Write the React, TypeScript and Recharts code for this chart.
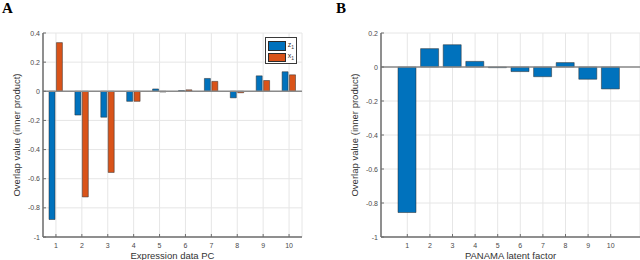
import { BarChart, Bar, XAxis, YAxis, CartesianGrid, ReferenceLine } from 'recharts';

const categories = ['1', '2', '3', '4', '5', '6', '7', '8', '9', '10'];
const zValues = [-0.88, -0.163, -0.178, -0.069, 0.016, 0.005, 0.088, -0.045, 0.106, 0.134];
const xValues = [0.334, -0.725, -0.557, -0.069, -0.005, 0.01, 0.068, -0.01, 0.074, 0.113];
const panamaValues = [-0.856, 0.108, 0.131, 0.033, -0.004, -0.027, -0.057, 0.026, -0.072, -0.129];
const legendLabels = ['z', 'x'];
const ticksA = [-1, -0.8, -0.6, -0.4, -0.2, 0, 0.2, 0.4];
const ticksB = [-1, -0.8, -0.6, -0.4, -0.2, 0, 0.2];

const FONT = '"Liberation Sans", Arial, sans-serif';
const BLUE = '#0072BD';
const ORANGE = '#D95319';
const EDGE = '#2b2b2b';
const AXIS = '#6e6e6e';
const TICK_TEXT = '#4a4a4a';
const GRID = '#e6e6e6';

const dataA = categories.map((c, i) => ({ pc: c, z: zValues[i], x: xValues[i] }));
const dataB = categories.map((c, i) => ({ f: c, v: panamaValues[i] }));

const fmt = (v: number) => String(Math.round(v * 10) / 10);

const YTick = (props: any) => {
  const { x, y, payload } = props;
  return (
    <g>
      <line x1={x + 3} x2={x + 6} y1={y} y2={y} stroke={AXIS} strokeWidth={1} />
      <text x={x} y={y} dy={2.5} textAnchor="end" fontSize={7} fill={TICK_TEXT} fontFamily={FONT}>
        {fmt(payload.value)}
      </text>
    </g>
  );
};

const XTick = (props: any) => {
  const { x, y, payload } = props;
  return (
    <g>
      <line x1={x} x2={x} y1={y - 5} y2={y - 8} stroke={AXIS} strokeWidth={1} />
      <text x={x} y={y} dy={6} textAnchor="middle" fontSize={7} fill={TICK_TEXT} fontFamily={FONT}>
        {payload.value}
      </text>
    </g>
  );
};

const LegendBox = () => (
  <div
    style={{
      position: 'absolute',
      left: 265,
      top: 37,
      width: 32,
      height: 27,
      border: '1px solid #3a3a3a',
      background: '#fff',
      padding: '2px 2px 0 2px',
      fontFamily: FONT,
      fontSize: 7,
      color: '#333',
      boxSizing: 'border-box',
    }}
  >
    {[BLUE, ORANGE].map((c, i) => (
      <div key={legendLabels[i]} style={{ display: 'flex', alignItems: 'center', height: 11.5 }}>
        <div style={{ width: 18, height: 9.5, background: c, border: `1px solid ${EDGE}`, boxSizing: 'border-box' }} />
        <span style={{ marginLeft: 2, lineHeight: '9px' }}>
          {legendLabels[i]}
          <sub style={{ fontSize: 5 }}>1</sub>
        </span>
      </div>
    ))}
  </div>
);

const yLabel = (cx: number) => (
  <text
    x={cx}
    y={135}
    transform={`rotate(-90 ${cx} 135)`}
    textAnchor="middle"
    fontSize={9.5}
    fill="#333"
    fontFamily={FONT}
  >
    Overlap value (inner product)
  </text>
);

const titleStyle = {
  position: 'absolute' as const,
  top: 1,
  fontFamily: '"Liberation Serif", serif',
  fontWeight: 'bold' as const,
  fontSize: 15,
  lineHeight: '15px',
};

export default function App() {
  return (
    <div style={{ position: 'fixed', left: 0, top: 0, width: 640, height: 260, background: '#fff' }}>
      <div style={{ ...titleStyle, left: 2 }}>A</div>
      <div style={{ ...titleStyle, left: 336 }}>B</div>

      <div style={{ position: 'absolute', left: 0, top: 0 }}>
        <BarChart
          width={320}
          height={260}
          data={dataA}
          margin={{ top: 33, right: 18, bottom: 0, left: 0 }}
          barSize={6}
          barGap={1.4}
        >
          <CartesianGrid stroke={GRID} strokeWidth={1} />
          <XAxis
            dataKey="pc"
            height={23}
            stroke={AXIS}
            strokeWidth={1.5}
            tickLine={false}
            tickSize={0}
            tickMargin={5}
            tick={<XTick />}
            interval={0}
            label={{ value: 'Expression data PC', position: 'insideBottom', offset: 1, fontSize: 9.5, fill: '#333', fontFamily: FONT }}
          />
          <YAxis
            width={43}
            domain={[-1, 0.4]}
            ticks={ticksA}
            stroke={AXIS}
            strokeWidth={1.5}
            tickLine={false}
            tickSize={0}
            tickMargin={3}
            tick={<YTick />}
            interval={0}
          />
          <ReferenceLine y={0} stroke="#8a8a8a" strokeWidth={1.5} />
          <Bar dataKey="z" name="z1" fill={BLUE} stroke={EDGE} strokeWidth={0.5} isAnimationActive={false} />
          <Bar dataKey="x" name="x1" fill={ORANGE} stroke={EDGE} strokeWidth={0.5} isAnimationActive={false} />
          {yLabel(20)}
        </BarChart>
        <LegendBox />
      </div>

      <div style={{ position: 'absolute', left: 320, top: 0 }}>
        <BarChart
          width={320}
          height={260}
          data={dataB}
          margin={{ top: 33, right: 0, bottom: 0, left: 0 }}
          barSize={18}
        >
          <CartesianGrid stroke={GRID} strokeWidth={1} />
          <XAxis
            dataKey="f"
            height={23}
            stroke={AXIS}
            strokeWidth={1.5}
            tickLine={false}
            tickSize={0}
            tickMargin={5}
            tick={<XTick />}
            interval={0}
            padding={{ left: 15, right: 18 }}
            label={{ value: 'PANAMA latent factor', position: 'insideBottom', offset: 1, fontSize: 9.5, fill: '#333', fontFamily: FONT }}
          />
          <YAxis
            width={61}
            domain={[-1, 0.2]}
            ticks={ticksB}
            stroke={AXIS}
            strokeWidth={1.5}
            tickLine={false}
            tickSize={0}
            tickMargin={3}
            tick={<YTick />}
            interval={0}
          />
          <ReferenceLine y={0} stroke="#8a8a8a" strokeWidth={1.5} />
          <Bar dataKey="v" fill={BLUE} stroke={EDGE} strokeWidth={0.5} isAnimationActive={false} />
          {yLabel(38)}
        </BarChart>
      </div>
    </div>
  );
}
